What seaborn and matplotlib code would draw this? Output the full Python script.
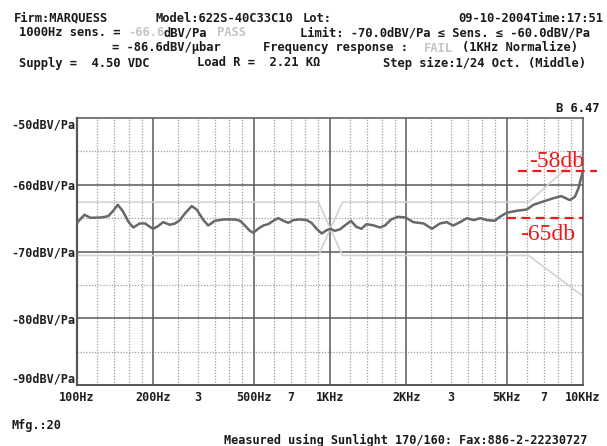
import matplotlib
matplotlib.use("Agg")
import matplotlib.pyplot as plt
from matplotlib.ticker import NullLocator
import pandas as pd
import seaborn as sns

# ---------------- data ----------------
freq_hz = [100, 107, 113, 125, 133, 139, 145, 152, 160, 167, 177, 186, 194, 200,
           209, 219, 233, 244, 255, 267, 284, 297, 316, 330, 351, 379, 421, 441,
           461, 482, 497, 520, 545, 570, 597, 624, 654, 684, 716, 760, 809, 845,
           885, 927, 971, 1006, 1044, 1093, 1145, 1210, 1270, 1330, 1395, 1490,
           1575, 1650, 1745, 1855, 1985, 2135, 2345, 2530, 2720, 2890, 3070, 3270,
           3480, 3700, 3930, 4180, 4475, 4695, 4990, 5475, 6000, 6370, 6975, 7660,
           8200, 8870, 9290, 9600, 9900, 10000]
response_dbv = [-65.7, -64.5, -64.95, -64.9, -64.7, -63.9, -63.0, -64.0, -65.6, -66.4,
                -65.8, -65.8, -66.3, -66.6, -66.2, -65.6, -66.0, -65.8, -65.3, -64.3,
                -63.2, -63.7, -65.3, -66.1, -65.4, -65.2, -65.2, -65.4, -66.1, -66.9,
                -67.2, -66.6, -66.1, -65.9, -65.4, -65.0, -65.4, -65.7, -65.3, -65.2,
                -65.3, -65.7, -66.6, -67.3, -66.8, -66.6, -66.9, -66.7, -66.1, -65.4,
                -66.3, -66.6, -65.9, -66.1, -66.4, -66.1, -65.2, -64.8, -64.9, -65.6,
                -65.8, -66.6, -65.8, -65.6, -66.1, -65.6, -65.0, -65.3, -65.0, -65.3,
                -65.4, -64.8, -64.2, -63.9, -63.7, -63.0, -62.5, -62.0, -61.7, -62.3,
                -61.8, -60.5, -58.5, -58.0]

limit_a_freq = [100, 900, 1120, 6100, 10000]
limit_a_dbv = [-62.6, -62.6, -70.6, -70.6, -76.7]
limit_b_freq = [100, 900, 1120, 6100, 10000]
limit_b_dbv = [-70.6, -70.6, -62.6, -62.6, -55.3]

x_tick_freqs = [100, 200, 300, 500, 700, 1000, 2000, 3000, 5000, 7000, 10000]
x_tick_labels = ["100Hz", "200Hz", "3", "500Hz", "7", "1KHz", "2KHz", "3", "5KHz", "7", "10KHz"]
y_ticks = [-50, -60, -70, -80, -90]
y_tick_labels = ["-50dBV/Pa", "-60dBV/Pa", "-70dBV/Pa", "-80dBV/Pa", "-90dBV/Pa"]

major_grid_freqs = [200, 500, 1000, 2000, 5000]
minor_grid_freqs = [120, 140, 160, 180, 250, 300, 350, 400, 450, 600, 700, 800, 900,
                    1200, 1400, 1600, 1800, 2500, 3000, 3500, 4000, 4500,
                    6000, 7000, 8000, 9000]
major_grid_db = [-60, -70, -80]
minor_grid_db = [-55, -65, -75, -85]

annot_levels = [-58, -65]
annot_labels = ["-58db", "-65db"]

# ---------------- figure ----------------
sns.set_style("white")
plt.rcParams["font.family"] = ["DejaVu Sans Mono"]
W, H = 607, 446
fig = plt.figure(figsize=(W / 100, H / 100), dpi=100)
fig.patch.set_facecolor("white")

def fx(x):
    return x / W

def fy(y):
    return 1 - y / H

ax = fig.add_axes([fx(77), fy(385), (583 - 77) / W, (385 - 118) / H])
ax.set_xscale("log")
ax.set_xlim(100, 10000)
ax.set_ylim(-90, -50)

# grid
ax.vlines(minor_grid_freqs, -90, -50, colors="#a0a0a0", linestyles=(0, (1, 1.3)), lw=0.9, zorder=1)
ax.hlines(minor_grid_db, 100, 10000, colors="#a0a0a0", linestyles=(0, (1, 1.3)), lw=0.9, zorder=1)
ax.vlines(major_grid_freqs, -90, -50, colors="#5a5a5a", lw=1.1, zorder=1.5)
ax.hlines(major_grid_db, 100, 10000, colors="#5a5a5a", lw=1.1, zorder=1.5)

# limit lines
lim_a = pd.DataFrame({"f": limit_a_freq, "db": limit_a_dbv})
lim_b = pd.DataFrame({"f": limit_b_freq, "db": limit_b_dbv})
sns.lineplot(data=lim_a, x="f", y="db", ax=ax, color="#d2d2d2", lw=1.2, zorder=2)
sns.lineplot(data=lim_b, x="f", y="db", ax=ax, color="#d2d2d2", lw=1.2, zorder=2)

# response curve
resp = pd.DataFrame({"f": freq_hz, "db": response_dbv})
sns.lineplot(data=resp, x="f", y="db", ax=ax, color="#686868", lw=1.8, zorder=3)

ax.set_xlabel("")
ax.set_ylabel("")
ax.xaxis.set_minor_locator(NullLocator())
ax.yaxis.set_minor_locator(NullLocator())
ax.set_xticks(x_tick_freqs)
ax.set_xticklabels(x_tick_labels, fontsize=8.5, fontweight="bold", color="#1e1e1e")
ax.set_yticks(y_ticks)
ax.set_yticklabels(y_tick_labels, fontsize=8.5, fontweight="bold", color="#1e1e1e")
ax.tick_params(axis="x", length=0, pad=4.5)
ax.tick_params(axis="y", length=0, pad=1.5)
ylabs = ax.get_yticklabels()
ylabs[0].set_va("top")
ylabs[-1].set_va("bottom")

for side, sp in ax.spines.items():
    sp.set_visible(True)
    sp.set_color("#555555")
    sp.set_linewidth(1.1)
ax.spines["left"].set_linewidth(1.6)
ax.spines["bottom"].set_linewidth(1.4)

# red annotations
red = "#f01818"
ax.hlines(annot_levels[0], 5534, 11360, colors=red, linestyles=(0, (4, 2.5)), lw=1.6, clip_on=False, zorder=5)
ax.hlines(annot_levels[1], 5006, 10000, colors=red, linestyles=(0, (4, 2.5)), lw=1.6, clip_on=False, zorder=5)
fig.text(fx(529), fy(167), annot_labels[0], color=red, fontsize=17, family="Liberation Serif",
         ha="left", va="baseline")
fig.text(fx(520), fy(240), annot_labels[1], color=red, fontsize=17, family="Liberation Serif",
         ha="left", va="baseline")

# header texts
dark = "#1a1a1a"
light = "#c4c4c4"
hs = 8.7

def t(x, y, s, color=dark, ha="left", size=hs):
    fig.text(fx(x), fy(y), s, fontsize=size, fontweight="bold", color=color,
             ha=ha, va="center", family="DejaVu Sans Mono")

t(14, 18, "Firm:MARQUESS")
t(156, 18, "Model:622S-40C33C10")
t(303, 18, "Lot:")
t(603, 18, "09-10-2004Time:17:51", ha="right")
t(19, 33, "1000Hz sens. =")
t(128, 33, "-66.6", color=light)
t(164, 33, "dBV/Pa")
t(217, 33, "PASS", color=light)
t(300, 33, "Limit: -70.0dBV/Pa \u2264 Sens. \u2264 -60.0dBV/Pa")
t(112, 48, "= -86.6dBV/\u03bcbar")
t(263, 48, "Frequency response :")
t(424, 48, "FAIL", color=light)
t(462, 48, "(1KHz Normalize)")
t(19, 63, "Supply =  4.50 VDC")
t(197, 63, "Load R =  2.21 K\u03a9")
t(383, 63, "Step size:1/24 Oct. (Middle)")
t(599, 108, "B 6.47", ha="right")
t(11, 426, "Mfg.:20", size=8.6)
t(224, 440, "Measured using Sunlight 170/160: Fax:886-2-22230727", size=8.6)

fig.savefig("out.png", dpi=100, facecolor="white")
